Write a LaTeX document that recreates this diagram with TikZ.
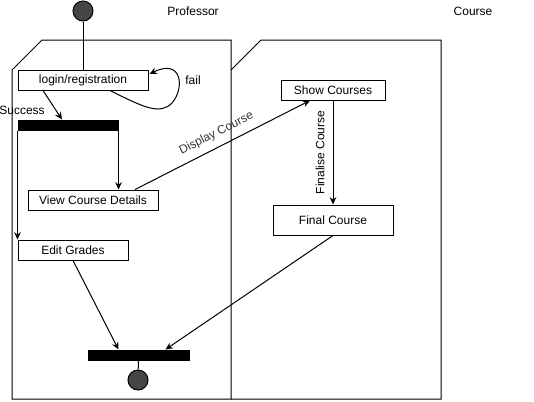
\documentclass[tikz,border=0pt]{standalone}
\usepackage{fontspec}
\setmainfont{Liberation Sans}
\usetikzlibrary{arrows.meta,calc}
\begin{document}
\begin{tikzpicture}[x=0.75pt,y=-0.75pt,line width=0.75pt,
  font=\fontsize{9pt}{11pt}\selectfont,
  box/.style={draw,rectangle,inner sep=0pt,minimum height=15pt,fill=white},
  bar/.style={draw,fill=black,rectangle,inner sep=0pt,minimum height=7.5pt},
  dot/.style={draw,circle,fill=black!73,inner sep=0pt,minimum size=15pt},
  arr/.style={-{Stealth[length=5.5pt,width=5pt]}},
  lane/.style={draw,line width=0.75pt}]
\useasboundingbox (0,0) rectangle (534,401);
% swimlanes
\draw[lane] (12,70) -- (42,40) -- (231,40) -- (231,399) -- (12,399) -- cycle;
\draw[lane] (231,70) -- (261,40) -- (441,40) -- (441,399) -- (231,399);
\node (prof) at (193,11) {Professor};
\node (course) at (473,11) {Course};
% nodes
\node[dot] (start) at (83,11) {};
\node[box,minimum width=97.5pt] (login) at (83,80) {login/registration};
\node[bar,minimum width=75pt] (bar1) at (68,125) {};
\node[box,minimum width=97.5pt] (view) at (93,200) {View Course Details};
\node[box,minimum width=82.5pt] (edit) at (73,250) {Edit Grades};
\node[box,minimum width=78pt] (show) at (333,90) {Show Courses};
\node[box,minimum width=90pt,minimum height=22.5pt] (final) at (333,220) {Final Course};
\node[bar,minimum width=75.75pt] (bar2) at (138.5,355) {};
\node[dot] (end) at (138,380) {};
% connectors
\draw (start) -- (login);
\coordinate (loopA) at ($(login.south)+(27,0)$);
\coordinate (loopB) at ($(login.east)+(1,-6)$);
\draw[arr] (loopA) .. controls (145,108) and (160,115) .. (172,103)
  .. controls (185,88) and (182,58) .. (loopB);
\node (fail) at (193,80) {fail};
\draw[arr] ($(login.south)+(-40,0)$) -- ($(bar1.north)+(-6,0)$);
\node (succ) at (22,110) {Success};
\draw[arr] (bar1.south east) -- (bar1.south east |- view.north);
\draw[arr] (bar1.south west) -- (bar1.south west |- edit.north);
\draw[arr] ($(view.north)+(42,0)$) -- node[midway,sloped,above=2pt,text=black!80] {Display Course} ($(show.south)+(-23,0)$);
\draw[arr] (show.south) -- (final.north);
\node[rotate=90] (fin) at ($(show.south)!0.5!(final.north)+(-13,0)$) {Finalise Course};
\draw[arr] (final.south) -- ($(bar2.north)+(27,0)$);
\draw[arr] (edit.south) -- ($(bar2.north)+(-20,0)$);
\draw (bar2) -- (end);
\end{tikzpicture}
\end{document}
